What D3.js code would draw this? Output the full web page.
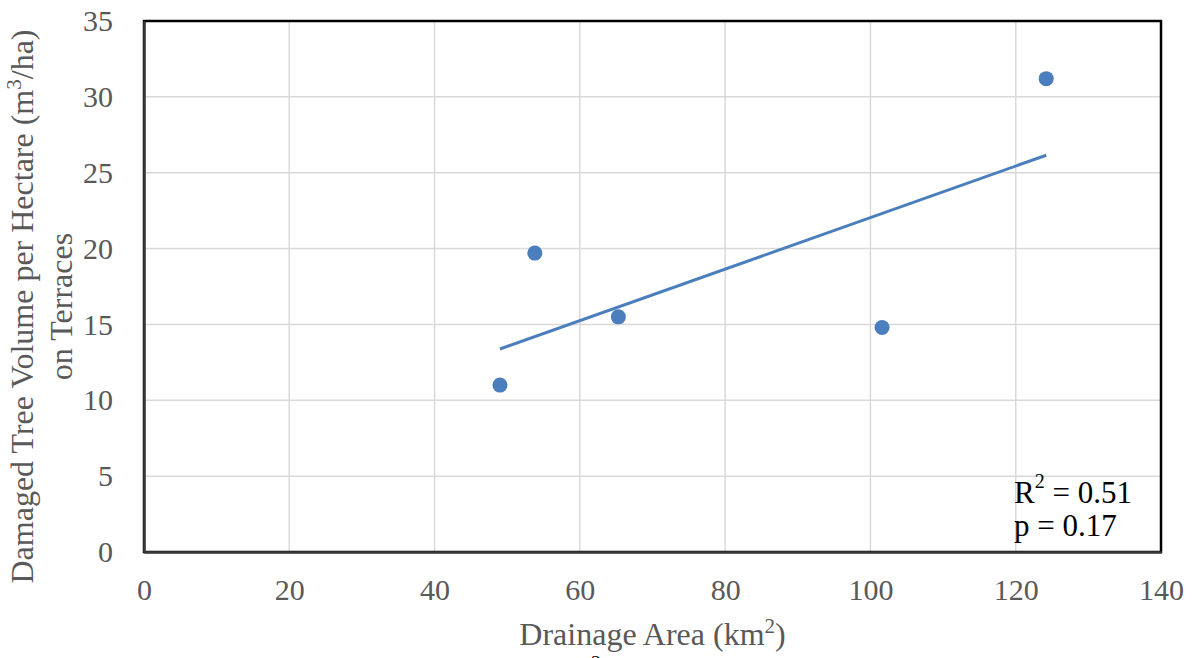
<!DOCTYPE html>
<html>
<head>
<meta charset="utf-8">
<script src="https://cdn.jsdelivr.net/npm/d3@7"></script>
<style>
  body { margin: 0; background: #fff; }
  svg { display: block; font-family: "Liberation Serif", "Times New Roman", serif; }
</style>
</head>
<body>
<svg id="chart" width="1196" height="658"></svg>
<script>
// data
var drainageArea = [49.0, 53.8, 65.3, 101.6, 124.2];
var treeVolume = [11.0, 19.7, 15.5, 14.8, 31.2];
var xTicks = [0, 20, 40, 60, 80, 100, 120, 140];
var yTicks = [0, 5, 10, 15, 20, 25, 30, 35];
var statLines = ["= 0.51", "p = 0.17"];

(function() {
  var svg = d3.select("#chart");
  var iLeft = 144, iRight = 1161, iTop = 21, iBottom = 552;
  var sBlue = "#4a7ebd";
  var sGray = "#595959";

  var x = d3.scaleLinear().domain([0, 140]).range([iLeft, iRight]);
  var y = d3.scaleLinear().domain([0, 35]).range([iBottom, iTop]);

  // grid
  svg.append("g").selectAll("line").data(xTicks.slice(1, -1)).join("line")
    .attr("x1", d => x(d)).attr("x2", d => x(d))
    .attr("y1", iTop).attr("y2", iBottom)
    .attr("stroke", "#d9d9d9").attr("stroke-width", 1.5);
  svg.append("g").selectAll("line").data(yTicks.slice(1, -1)).join("line")
    .attr("x1", iLeft).attr("x2", iRight)
    .attr("y1", d => y(d)).attr("y2", d => y(d))
    .attr("stroke", "#d9d9d9").attr("stroke-width", 1.5);

  // frame
  svg.append("rect")
    .attr("x", iLeft).attr("y", iTop)
    .attr("width", iRight - iLeft).attr("height", iBottom - iTop)
    .attr("fill", "none").attr("stroke", "#000").attr("stroke-width", 2.5);

  // axes
  var xAxis = svg.append("g")
    .attr("transform", `translate(0, ${iBottom})`)
    .call(d3.axisBottom(x).tickValues(xTicks).tickSize(0).tickPadding(27));
  var yAxis = svg.append("g")
    .attr("transform", `translate(${iLeft}, 0)`)
    .call(d3.axisLeft(y).tickValues(yTicks).tickSize(0).tickPadding(31));
  [xAxis, yAxis].forEach(function(g) {
    g.select(".domain").attr("stroke", "#3a3a3a").attr("stroke-width", 2.5);
    g.selectAll("text")
      .attr("fill", sGray)
      .style("font-family", "'Liberation Serif', serif")
      .style("font-size", "30px");
  });

  // trend line (least squares)
  var mx = d3.mean(drainageArea), my = d3.mean(treeVolume);
  var sxy = d3.sum(drainageArea, (d, i) => (d - mx) * (treeVolume[i] - my));
  var sxx = d3.sum(drainageArea, d => (d - mx) * (d - mx));
  var slope = sxy / sxx, icpt = my - slope * mx;
  svg.append("path")
    .datum(d3.extent(drainageArea))
    .attr("fill", "none").attr("stroke", sBlue).attr("stroke-width", 3)
    .attr("d", d3.line().x(d => x(d)).y(d => y(icpt + slope * d)));

  // points
  svg.append("g").selectAll("circle").data(drainageArea).join("circle")
    .attr("cx", d => x(d))
    .attr("cy", (d, i) => y(treeVolume[i]))
    .attr("r", 7.5)
    .attr("fill", sBlue);

  // stats
  var stats = svg.append("g").attr("font-size", 31).attr("fill", "#000");
  var t1 = stats.append("text").attr("x", 1014).attr("y", 503);
  t1.append("tspan").text("R");
  t1.append("tspan").attr("font-size", 20).attr("dy", -15).text("2");
  t1.append("tspan").attr("dy", 15).text(" " + statLines[0]);
  stats.append("text").attr("x", 1014).attr("y", 536).text(statLines[1]);

  // axis titles
  var xt = svg.append("text")
    .attr("x", (iLeft + iRight) / 2).attr("y", 645)
    .attr("text-anchor", "middle").attr("font-size", 32).attr("fill", sGray);
  xt.append("tspan").text("Drainage Area (km");
  xt.append("tspan").attr("font-size", 21).attr("dy", -12).text("2");
  xt.append("tspan").attr("dy", 12).text(")");

  var cy = (iTop + iBottom) / 2 + 20;
  var yt = svg.append("text")
    .attr("transform", `translate(33, ${cy}) rotate(-90)`)
    .attr("text-anchor", "middle").attr("font-size", 32).attr("fill", sGray);
  yt.append("tspan").text("Damaged Tree Volume per Hectare (m");
  yt.append("tspan").attr("font-size", 21).attr("dy", -12).text("3");
  yt.append("tspan").attr("dy", 12).text("/ha)");
  svg.append("text")
    .attr("transform", `translate(72, ${cy}) rotate(-90)`)
    .attr("text-anchor", "middle").attr("font-size", 32).attr("fill", sGray)
    .text("on Terraces");

  // stray clipped superscript at the bottom edge
  svg.append("text").attr("x", 596).attr("y", 670)
    .attr("text-anchor", "middle").attr("font-size", 20).attr("fill", "#000").text("2");
})();
</script>
</body>
</html>
